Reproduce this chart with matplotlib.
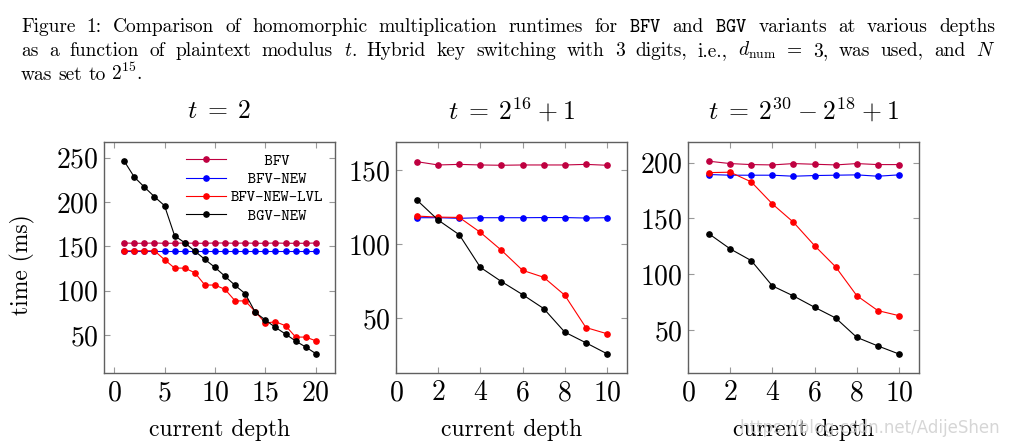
"""Kjøretid for homomorf multiplikasjon, BFV- og BGV-variantar, tre verdiar av t."""

import matplotlib
matplotlib.use('Agg')
import matplotlib.pyplot as plt

# Skrift som liknar LaTeX
plt.rcParams['font.family'] = ['cmr10', 'DejaVu Serif']
plt.rcParams['mathtext.fontset'] = 'cm'
plt.rcParams['axes.formatter.use_mathtext'] = True

# Data lese av figuren
djupn_20 = [1, 2, 3, 4, 5, 6, 7, 8, 9, 10, 11, 12, 13, 14, 15, 16, 17, 18, 19, 20]
djupn_10 = [1, 2, 3, 4, 5, 6, 7, 8, 9, 10]

t2_bfv = [153.8, 153.5, 153.5, 153.8, 153.5, 153.5, 153.8, 153.5, 153.5, 153.8,
          153.8, 153.5, 153.8, 153.5, 153.5, 153.8, 153.5, 153.5, 153.5, 153.8]
t2_bfv_new = [144.7, 144.7, 144.7, 144.7, 144.7, 144.7, 144.7, 144.7, 144.7, 144.7,
              144.7, 144.7, 144.7, 144.7, 144.7, 144.7, 144.7, 144.7, 144.7, 144.7]
t2_bfv_lvl = [145, 145, 145, 145, 135, 125.5, 125.5, 120.3, 106.4, 106.4,
              101.5, 88.5, 88.5, 76.3, 63.5, 65, 60.5, 47.7, 47.7, 43.5]
t2_bgv_new = [246.2, 228.2, 216.9, 206, 195.9, 162, 154.1, 144.7, 135.3, 126.3,
              116.2, 106, 96.6, 75.6, 66.9, 58.6, 51.1, 43.2, 36.5, 29]

t16_bfv = [155.8, 153.6, 154, 153.6, 153.4, 153.6, 153.6, 153.6, 154, 153.4]
t16_bfv_new = [118, 118, 117.6, 118, 118, 118, 118.1, 118.1, 117.8, 118]
t16_bfv_lvl = [119.1, 118.4, 118.2, 108.1, 96, 82.5, 77.8, 65.7, 43.9, 39.7]
t16_bgv_new = [129.8, 116.4, 106.5, 84.5, 74.9, 66.1, 56.7, 40.8, 33.6, 26.2]

t30_bfv = [201.2, 199.1, 198.2, 197.9, 199.1, 198.5, 197.9, 199.1, 198.2, 198.2]
t30_bfv_new = [189.3, 188.7, 188.7, 188.7, 187.8, 188.4, 188.7, 189, 187.8, 189]
t30_bfv_lvl = [191, 191.4, 182.7, 163, 146.6, 125.7, 106.7, 81, 67.6, 63.1]
t30_bgv_new = [136.2, 122.8, 112.3, 89.7, 80.7, 70.6, 61, 43.7, 36, 28.8]

namn = ['BFV', 'BFV-NEW', 'BFV-NEW-LVL', 'BGV-NEW']
fargar = ['#BF0040', '#0000FF', '#FF0000', '#000000']

paneler = [
    (r'$t\;=\;2$', djupn_20, [t2_bfv, t2_bfv_new, t2_bfv_lvl, t2_bgv_new],
     (-1.0, 21.9), (7.2, 267.7), [0, 5, 10, 15, 20], [50, 100, 150, 200, 250]),
    (r'$t\;=\;2^{16}\:+\:1$', djupn_10, [t16_bfv, t16_bfv_new, t16_bfv_lvl, t16_bgv_new],
     (0, 10.95), (13.2, 169.1), [0, 2, 4, 6, 8, 10], [50, 100, 150]),
    (r'$t\;=\;2^{30}\:-\:2^{18}\:+\:1$', djupn_10, [t30_bfv, t30_bfv_new, t30_bfv_lvl, t30_bgv_new],
     (0, 10.95), (11.8, 218.4), [0, 2, 4, 6, 8, 10], [50, 100, 150, 200]),
]

W, H = 1010, 446
fig = plt.figure(figsize=(W/100, H/100), dpi=100)

venstre = [104, 396, 688]
for i, (tittel, x, serier, xlim, ylim, xt, yt) in enumerate(paneler):
    ax = fig.add_axes([venstre[i]/W, (H-373)/H, 231/W, 231/H])
    for y, lab, c in zip(serier, namn, fargar):
        ax.plot(x, y, '-o', color=c, linewidth=0.8, markersize=3.8, label=lab)
    ax.set_xlim(xlim)
    ax.set_ylim(ylim)
    ax.set_xticks(xt)
    ax.set_yticks(yt)
    ax.tick_params(direction='in', top=True, right=True, length=4.5, width=0.8,
                   color='#999999', labelsize=20, labelcolor='black')
    ax.tick_params(axis='x', pad=5)
    ax.tick_params(axis='y', pad=4)
    for s in ax.spines.values():
        s.set_color('#606060')
        s.set_linewidth(1.0)
    ax.text(0.5, 1.135, tittel, transform=ax.transAxes, ha='center', va='center',
            fontsize=18.5)
    ax.set_xlabel('current depth', fontsize=17)
    ax.xaxis.set_label_coords(0.5, -0.2)
    if i == 0:
        leg_namn = ['    BFV    ', '  BFV-NEW  ', 'BFV-NEW-LVL', '  BGV-NEW  ']
        h = ax.get_lines()
        ax.legend(h, leg_namn, loc='upper right', bbox_to_anchor=(0.95, 0.95),
                  frameon=False, prop={'family': 'cmtt10', 'size': 11.5},
                  handlelength=2.5, handletextpad=0.3, labelspacing=0.2,
                  borderpad=0, borderaxespad=0)

fig.text(22/W, 1 - 265/H, 'time (ms)', rotation=90, ha='center', va='center',
         fontsize=17)

# Biletteksten, jamsett over heile breidda
linjer = [
    r'Figure 1: Comparison of homomorphic multiplication runtimes for $\mathtt{BFV}$ and $\mathtt{BGV}$ variants at various depths',
    r'as a function of plaintext modulus $t$. Hybrid key switching with 3 digits, i.e., $d_{\mathrm{num}}$ = 3, was used, and $N$',
    r'was set to $2^{15}$.',
]
grunnlinje = [32, 56, 80]
x0, x1 = 21, 995
r = fig.canvas.get_renderer()
for k, linje in enumerate(linjer):
    ord_ = linje.split(' ')
    tekstar = [fig.text(0, 1 - grunnlinje[k]/H, o, fontsize=14, va='baseline')
               for o in ord_]
    breidder = [t.get_window_extent(r).width for t in tekstar]
    if k < 2:
        gap = (x1 - x0 - sum(breidder)) / (len(ord_) - 1)
    else:
        gap = 6
    xpos = x0
    for t, b in zip(tekstar, breidder):
        t.set_x(xpos / W)
        xpos += b + gap

fig.text(1000/W, 1 - 428/H, 'https://blog.csdn.net/AdijeShen', ha='right', va='center',
         fontsize=12, color='#cccccc', family='DejaVu Sans', alpha=0.8)

fig.savefig('out.png', dpi=100)
